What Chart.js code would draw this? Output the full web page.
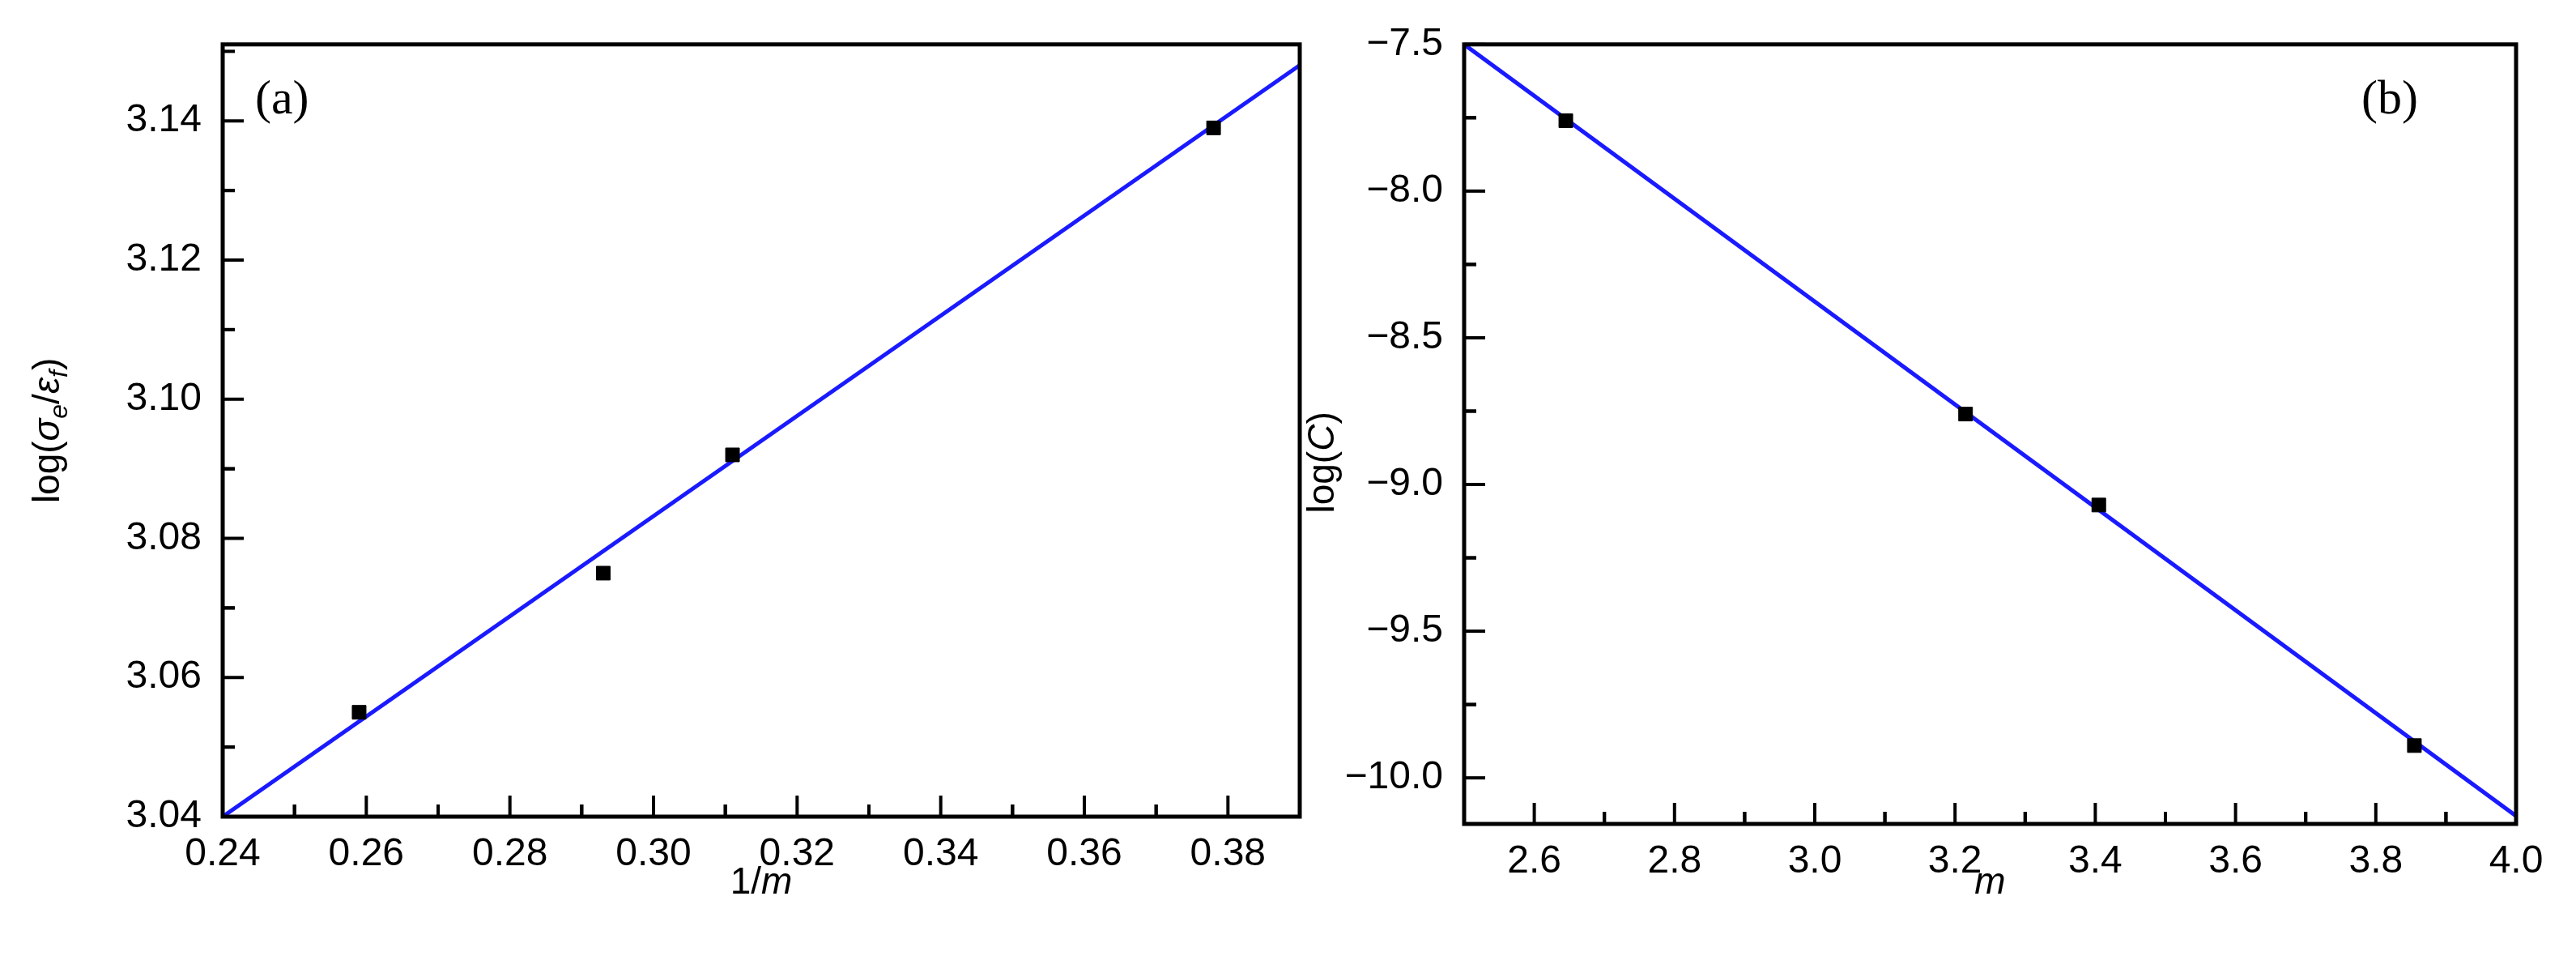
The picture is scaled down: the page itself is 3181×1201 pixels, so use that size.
<!DOCTYPE html>
<html>
<head>
<meta charset="utf-8">
<script src="https://cdn.jsdelivr.net/npm/chart.js@4"></script>
<style>
  body { margin: 0; background: #fff; }
  .wrap { position: relative; width: 3181px; height: 1201px; }
  .box { position: absolute; top: 0; height: 1201px; }
</style>
</head>
<body>
<div class="wrap">
  <div class="box" style="left:0;width:1640px"><canvas id="grafA"></canvas></div>
  <div class="box" style="left:1600px;width:1581px"><canvas id="grafB"></canvas></div>
</div>
<script>
// painel (a)
const invM = [0.259, 0.293, 0.311, 0.378];
const logSigma = [3.055, 3.075, 3.092, 3.139];
const ajusteAx = [0.24, 0.39];
const ajusteAy = [3.040, 3.148];
const ticksAx = [0.24, 0.26, 0.28, 0.30, 0.32, 0.34, 0.36, 0.38];
const ticksAy = [3.04, 3.06, 3.08, 3.10, 3.12, 3.14];

// painel (b)
const mVals = [2.645, 3.215, 3.405, 3.855];
const logC = [-7.76, -8.76, -9.07, -9.89];
const ajusteBx = [2.5, 4.0];
const ajusteBy = [-7.50, -10.13];
const ticksBx = [2.6, 2.8, 3.0, 3.2, 3.4, 3.6, 3.8, 4.0];
const ticksBy = [-10.0, -9.5, -9.0, -8.5, -8.0, -7.5];

const FONTE = "'Liberation Sans', Arial, sans-serif";

// desenha moldura, ticks para dentro e títulos
const molduraPlugin = {
  id: "moldura",
  afterDraw(chart, args, opts) {
    const { ctx, chartArea: a, scales } = chart;
    ctx.save();
    ctx.strokeStyle = "#000";
    ctx.lineWidth = 5;
    ctx.strokeRect(a.left, a.top, a.right - a.left, a.bottom - a.top);
    ctx.lineWidth = 4;
    const desenhaTicks = (scale, vals, horiz) => {
      const passo = vals[1] - vals[0];
      const todos = [];
      vals.forEach(v => { todos.push([v, 26]); todos.push([v + passo / 2, 15]); todos.push([v - passo / 2, 15]); });
      todos.forEach(([v, len]) => {
        if (v < scale.min - 1e-9 || v > scale.max + 1e-9) return;
        const p = scale.getPixelForValue(v);
        ctx.beginPath();
        if (horiz) { ctx.moveTo(p, a.bottom); ctx.lineTo(p, a.bottom - len); }
        else { ctx.moveTo(a.left, p); ctx.lineTo(a.left + len, p); }
        ctx.stroke();
      });
    };
    desenhaTicks(scales.x, opts.tx, true);
    desenhaTicks(scales.y, opts.ty, false);

    // etiqueta do painel
    ctx.fillStyle = "#000";
    ctx.font = "60px 'Liberation Serif', 'Times New Roman', serif";
    ctx.textBaseline = "alphabetic";
    ctx.textAlign = "left";
    ctx.fillText(opts.painel, opts.painelX, a.top + 85);

    // título x
    const partesX = opts.tituloX;
    ctx.textBaseline = "middle";
    let larg = 0;
    partesX.forEach(p => { ctx.font = (p.i ? "italic " : "") + "46px " + FONTE; larg += ctx.measureText(p.t).width; });
    let x = (a.left + a.right) / 2 - larg / 2;
    partesX.forEach(p => { ctx.font = (p.i ? "italic " : "") + "46px " + FONTE; ctx.fillText(p.t, x, 1090); x += ctx.measureText(p.t).width; });

    // título y (rodado)
    ctx.translate(opts.tituloYx, (a.top + a.bottom) / 2 + (opts.desvioY || 0));
    ctx.rotate(-Math.PI / 2);
    let w = 0;
    const fonte = p => (p.i ? "italic " : "") + (p.s ? "32px " : "46px ") + FONTE;
    opts.tituloY.forEach(p => { ctx.font = fonte(p); w += ctx.measureText(p.t).width; });
    let px = -w / 2;
    opts.tituloY.forEach(p => {
      ctx.font = fonte(p);
      ctx.fillText(p.t, px, p.s ? 14 : 0);
      px += ctx.measureText(p.t).width;
    });
    ctx.restore();
  }
};

function criarGrafico(id, cfg) {
  const fixarTicks = vals => scale => { scale.ticks = vals.map(v => ({ value: v })); };
  return new Chart(document.getElementById(id), {
    type: "scatter",
    data: {
      datasets: [
        {
          data: cfg.px.map((v, i) => ({ x: v, y: cfg.py[i] })),
          pointStyle: "rect", pointRadius: 12, backgroundColor: "#000", borderColor: "#000"
        },
        {
          type: "line",
          data: cfg.lx.map((v, i) => ({ x: v, y: cfg.ly[i] })),
          borderColor: "#1a1aff", borderWidth: 5, pointRadius: 0, fill: false
        }
      ]
    },
    options: {
      responsive: true,
      maintainAspectRatio: false,
      animation: false,
      layout: { padding: cfg.padding },
      plugins: {
        legend: { display: false },
        tooltip: { enabled: false },
        moldura: cfg.moldura
      },
      scales: {
        x: {
          type: "linear", min: cfg.xmin, max: cfg.xmax,
          afterBuildTicks: fixarTicks(cfg.tx),
          afterFit: s => { s.height = cfg.alturaX; },
          grid: { display: false, drawTicks: false },
          border: { display: false },
          ticks: { color: "#000", font: { size: 48, family: FONTE }, padding: 18, maxRotation: 0,
                   callback: v => cfg.fmtX(v) }
        },
        y: {
          type: "linear", min: cfg.ymin, max: cfg.ymax,
          afterBuildTicks: fixarTicks(cfg.ty),
          afterFit: s => { s.width = cfg.larguraY; },
          grid: { display: false, drawTicks: false },
          border: { display: false },
          ticks: { color: "#000", font: { size: 48, family: FONTE }, padding: 26,
                   callback: v => cfg.fmtY(v) }
        }
      }
    },
    plugins: [molduraPlugin]
  });
}

criarGrafico("grafA", {
  px: invM, py: logSigma, lx: ajusteAx, ly: ajusteAy,
  tx: ticksAx, ty: ticksAy,
  xmin: 0.24, xmax: 0.39, ymin: 3.04, ymax: 3.151,
  padding: { top: 49, right: 35, left: 0, bottom: 0 },
  larguraY: 275, alturaX: 193,
  fmtX: v => v.toFixed(2), fmtY: v => v.toFixed(2),
  moldura: {
    tx: ticksAx, ty: ticksAy, painel: "(a)", painelX: 315,
    tituloX: [{ t: "1/" }, { t: "m", i: true }],
    tituloYx: 60,
    tituloY: [{ t: "log(" }, { t: "σ", i: true }, { t: "e", i: true, s: true }, { t: "/" },
              { t: "ε", i: true }, { t: "f", i: true, s: true }, { t: ")" }]
  }
});

criarGrafico("grafB", {
  px: mVals, py: logC, lx: ajusteBx, ly: ajusteBy,
  tx: ticksBx, ty: ticksBy,
  xmin: 2.5, xmax: 4.0, ymin: -10.157, ymax: -7.5,
  padding: { top: 53, right: 74, left: 0, bottom: 0 },
  larguraY: 208, alturaX: 184,
  fmtX: v => v.toFixed(1), fmtY: v => v.toFixed(1).replace("-", "\u2212"),
  moldura: {
    tx: ticksBx, ty: ticksBy, painel: "(b)", painelX: 1316,
    tituloX: [{ t: "m", i: true }],
    tituloYx: 34, desvioY: 35,
    tituloY: [{ t: "log(" }, { t: "C", i: true }, { t: ")" }]
  }
});
</script>
</body>
</html>
